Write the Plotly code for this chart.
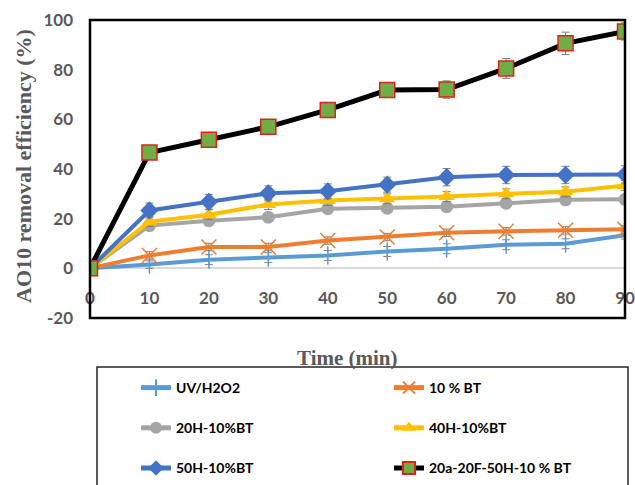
import plotly.graph_objects as go

# ---------------- data ----------------
time_min = [0, 10, 20, 30, 40, 50, 60, 70, 80, 90]

uv_h2o2 = [0, 1.5, 3.5, 4.3, 5.2, 6.8, 7.9, 9.5, 9.9, 13.3]
bt_10 = [0, 5.2, 8.6, 8.6, 11.2, 12.6, 14.3, 14.9, 15.3, 15.7]
h20_bt10 = [0, 17.2, 19.2, 20.6, 24.0, 24.2, 24.8, 26.2, 27.6, 27.8]
h40_bt10 = [0, 18.8, 21.6, 25.7, 27.3, 28.0, 28.9, 30.0, 30.8, 33.4]
h50_bt10 = [0, 23.3, 26.8, 30.2, 31.0, 33.7, 36.7, 37.6, 37.6, 37.8]
combo = [0, 46.6, 51.8, 57.0, 63.8, 71.8, 72.0, 80.5, 90.6, 95.4]

err_uv = [0, 1.5, 2, 2, 2, 2, 2, 2, 2, 1.5]
err_bt = [0, 1.5, 1.5, 1.5, 1.5, 1.5, 1.5, 1.5, 1.5, 1.5]
err_h20 = [0, 1.5, 1.5, 1.5, 1.5, 1.5, 1.5, 1.5, 1.5, 1.5]
err_h40 = [0, 2, 2, 2, 2, 2, 2, 2, 2, 2]
err_h50 = [0, 3, 3, 3, 3, 3, 3.5, 3.5, 3.5, 3.5]
err_combo = [0, 1.5, 1.5, 1.5, 2.5, 3.0, 3.5, 4.0, 4.5, 3.5]

names = ["UV/H2O2", "10 % BT", "20H-10%BT", "40H-10%BT", "50H-10%BT", "20a-20F-50H-10 % BT"]
x_ticks = [0, 10, 20, 30, 40, 50, 60, 70, 80, 90]
y_ticks = [-20, 0, 20, 40, 60, 80, 100]

# ---------------- layout helpers (pixels -> paper) ----------------
W, H = 635, 485
ML, MR, MT, MB = 90, 10, 20, 167
PW, PH = W - ML - MR, H - MT - MB


def px(xp):
    return (xp - ML) / PW


def py(yp):
    return (H - MB - yp) / PH


fig = go.Figure()

series = [
    (uv_h2o2, err_uv, names[0], "#5B9BD5", dict(symbol="cross-thin", size=13, line=dict(color="#5B9BD5", width=1.5)), "legend", 4),
    (bt_10, err_bt, names[1], "#ED7D31", dict(symbol="x-thin", size=15, line=dict(color="#ED7D31", width=1.5)), "legend2", 4),
    (h20_bt10, err_h20, names[2], "#A5A5A5", dict(symbol="circle", size=13, color="#A5A5A5"), "legend", 4),
    (h40_bt10, err_h40, names[3], "#FFC000", dict(symbol="triangle-up", size=14, color="#FFC000"), "legend2", 4),
    (h50_bt10, err_h50, names[4], "#4472C4", dict(symbol="diamond", size=14, color="#4472C4"), "legend", 4),
    (combo, err_combo, names[5], "#000000", dict(symbol="square", size=15, color="#70AD47", line=dict(color="#E0201B", width=1.5)), "legend2", 5),
]

for i, (ys, es, nm, col, mk, lg, lw) in enumerate(series):
    fig.add_trace(go.Scatter(
        x=time_min, y=ys, name=nm, mode="lines+markers",
        line=dict(color=col, width=lw),
        marker=mk,
        error_y=dict(type="data", array=es, visible=True, color="#7F7F7F", thickness=1, width=4),
        legend=lg, legendgroup=f"g{i}",
    ))

fig.update_layout(
    width=W, height=H,
    margin=dict(l=ML, r=MR, t=MT, b=MB, autoexpand=False),
    paper_bgcolor="white", plot_bgcolor="white",
    showlegend=True,
    xaxis=dict(
        range=[0, 90], tickvals=x_ticks, ticktext=[str(v) for v in x_ticks],
        showgrid=False, zeroline=False, showline=False,
        anchor="free", position=20 / 120,
        ticks="", ticklabelstandoff=18,
        tickfont=dict(family="Lato", size=17, color="#595959", weight="bold"),
    ),
    yaxis=dict(
        range=[-20, 100], tickvals=y_ticks, ticktext=[str(v) for v in y_ticks],
        showgrid=False, zeroline=True, zerolinecolor="#D9D9D9", zerolinewidth=1.5,
        showline=False, ticks="", ticklabelstandoff=16,
        tickfont=dict(family="Lato", size=17, color="#595959", weight="bold"),
    ),
    legend=dict(
        x=px(136), y=py(372), xanchor="left", yanchor="top",
        orientation="v", tracegroupgap=19, bgcolor="rgba(0,0,0,0)",
        itemsizing="constant",
        font=dict(family="Lato", size=14, color="#000000", weight="bold"),
    ),
    legend2=dict(
        x=px(389), y=py(372), xanchor="left", yanchor="top",
        orientation="v", tracegroupgap=19, bgcolor="rgba(0,0,0,0)",
        itemsizing="constant",
        font=dict(family="Lato", size=14, color="#000000", weight="bold"),
    ),
    shapes=[
        dict(type="rect", xref="paper", yref="paper", x0=0, x1=1, y0=0, y1=1,
             line=dict(color="black", width=2.5), layer="above"),
        dict(type="rect", xref="paper", yref="paper", x0=px(97), x1=px(628), y0=py(367), y1=py(520),
             line=dict(color="#262626", width=1.5)),
    ],
    annotations=[
        dict(text="AO10 removal efficiency (%)", xref="paper", yref="paper",
             x=px(23), y=py(166), xanchor="center", yanchor="middle",
             textangle=-90, showarrow=False,
             font=dict(family="Liberation Serif", size=22, color="#595959", weight="bold")),
        dict(text="Time (min)", xref="paper", yref="paper",
             x=px(347), y=py(358), xanchor="center", yanchor="middle", showarrow=False,
             font=dict(family="Liberation Serif", size=21, color="#595959", weight="bold")),
    ],
)

fig.write_html("out.html")
